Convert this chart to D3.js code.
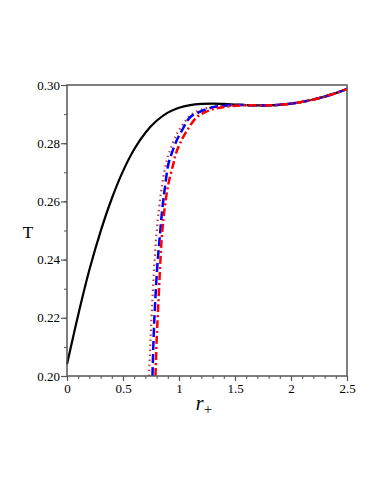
<!DOCTYPE html>
<html>
<head>
  <meta charset="utf-8">
  <title>T vs r+</title>
  <script src="https://d3js.org/d3.v7.min.js"></script>
  <style>
    body { margin: 0; background: #fff; }
    text { font-family: "Liberation Serif", "DejaVu Serif", serif; }
  </style>
</head>
<body>
  <script>
    // black solid curve: [r+, T]
    const solidCurve = [
      [0.0, 0.2040], [0.1, 0.2210], [0.2, 0.2365], [0.3, 0.2497], [0.4, 0.2610],
      [0.5, 0.2704], [0.6, 0.2779], [0.7, 0.2836], [0.8, 0.2877], [0.9, 0.2905],
      [1.0, 0.2922], [1.1, 0.2931], [1.2, 0.2935], [1.3, 0.2936], [1.4, 0.2935],
      [1.5, 0.2933], [1.6, 0.2931], [1.7, 0.2930], [1.8, 0.2930], [1.9, 0.2932],
      [2.0, 0.2936], [2.1, 0.2942], [2.2, 0.2950], [2.3, 0.2960], [2.4, 0.2972],
      [2.5, 0.2986]
    ];

    // shared tail where the three other curves sit on the black one
    const tail = [
      [1.7, 0.2930], [1.8, 0.2930], [1.9, 0.2932], [2.0, 0.2936], [2.1, 0.2942],
      [2.2, 0.2950], [2.3, 0.2960], [2.4, 0.2972], [2.5, 0.2986]
    ];

    const dottedCurve = [
      [0.732, 0.2000], [0.745, 0.2120], [0.757, 0.2220], [0.775, 0.2350], [0.795, 0.2469],
      [0.820, 0.2570], [0.850, 0.2660], [0.890, 0.2740], [0.913, 0.2768], [0.979, 0.2831],
      [1.040, 0.2868], [1.098, 0.2894], [1.188, 0.2914], [1.300, 0.2924], [1.420, 0.2929],
      [1.550, 0.2931]
    ].concat(tail);

    const dashedCurve = [
      [0.763, 0.2000], [0.775, 0.2150], [0.787, 0.2250], [0.805, 0.2370], [0.826, 0.2469],
      [0.850, 0.2570], [0.875, 0.2650], [0.905, 0.2728], [0.935, 0.2765], [0.980, 0.2810],
      [1.024, 0.2842], [1.098, 0.2889], [1.170, 0.2905], [1.247, 0.2917], [1.320, 0.2925],
      [1.396, 0.2929], [1.545, 0.2931]
    ].concat(tail);

    const dashDotCurve = [
      [0.790, 0.2000], [0.800, 0.2120], [0.812, 0.2220], [0.828, 0.2350], [0.845, 0.2469],
      [0.870, 0.2570], [0.905, 0.2660], [0.949, 0.2728], [0.970, 0.2762], [1.010, 0.2800],
      [1.069, 0.2842], [1.158, 0.2889], [1.230, 0.2906], [1.306, 0.2917], [1.380, 0.2923],
      [1.455, 0.2927], [1.560, 0.2930]
    ].concat(tail);

    const xTicks = [0, 0.5, 1, 1.5, 2, 2.5];
    const xTickLabels = ["0", "0.5", "1", "1.5", "2", "2.5"];
    const yTicks = [0.20, 0.22, 0.24, 0.26, 0.28, 0.30];
    const yTickLabels = ["0.20", "0.22", "0.24", "0.26", "0.28", "0.30"];

    const width = 382;
    const height = 494;
    const margin = { left: 67, right: 35, top: 85, bottom: 118 };

    const svg = d3.select('body').append('svg')
      .attr('width', width)
      .attr('height', height);

    const x = d3.scaleLinear().domain([0, 2.5]).range([margin.left, width - margin.right]);
    const y = d3.scaleLinear().domain([0.20, 0.30]).range([height - margin.bottom, margin.top]);

    const frameColor = '#555';

    // minor ticks
    svg.append('g')
      .attr('transform', `translate(0,${y(0.20)})`)
      .call(d3.axisBottom(x).tickValues(d3.range(0, 2.51, 0.1)).tickSize(3).tickFormat(''))
      .call(g => g.select('.domain').remove())
      .selectAll('line').attr('stroke', frameColor);
    svg.append('g')
      .attr('transform', `translate(${x(0)},0)`)
      .call(d3.axisLeft(y).tickValues(d3.range(0.20, 0.3001, 0.01)).tickSize(3).tickFormat(''))
      .call(g => g.select('.domain').remove())
      .selectAll('line').attr('stroke', frameColor);

    // major ticks + labels
    const xAxis = svg.append('g')
      .attr('transform', `translate(0,${y(0.20)})`)
      .call(d3.axisBottom(x).tickValues(xTicks).tickSize(5).tickPadding(3)
        .tickFormat((d, i) => xTickLabels[i]));
    xAxis.select('.domain').remove();
    xAxis.selectAll('line').attr('stroke', frameColor).attr('stroke-width', 1.2);
    xAxis.selectAll('text').attr('font-size', 13)
      .attr('font-family', '"Liberation Serif", serif').attr('fill', '#000');

    const yAxis = svg.append('g')
      .attr('transform', `translate(${x(0)},0)`)
      .call(d3.axisLeft(y).tickValues(yTicks).tickSize(6).tickPadding(1)
        .tickFormat((d, i) => yTickLabels[i]));
    yAxis.select('.domain').remove();
    yAxis.selectAll('line').attr('stroke', frameColor).attr('stroke-width', 1.2);
    yAxis.selectAll('text').attr('font-size', 13)
      .attr('font-family', '"Liberation Serif", serif').attr('fill', '#000');

    // curves
    const line = d3.line()
      .x(d => x(d[0]))
      .y(d => y(d[1]))
      .curve(d3.curveCatmullRom.alpha(0.5));

    svg.append('path').datum(solidCurve)
      .attr('d', line).attr('fill', 'none')
      .attr('stroke', '#000').attr('stroke-width', 2.2);

    svg.append('path').datum(dottedCurve)
      .attr('d', line).attr('fill', 'none')
      .attr('stroke', '#b8403f').attr('stroke-width', 2.2)
      .attr('stroke-dasharray', '1.5,3.5');

    svg.append('path').datum(dashedCurve)
      .attr('d', line).attr('fill', 'none')
      .attr('stroke', '#0000ff').attr('stroke-width', 2.5)
      .attr('stroke-dasharray', '9,4');

    svg.append('path').datum(dashDotCurve)
      .attr('d', line).attr('fill', 'none')
      .attr('stroke', '#ff0000').attr('stroke-width', 2.5)
      .attr('stroke-dasharray', '8,3,2,3');

    // frame
    svg.append('rect')
      .attr('x', x(0)).attr('y', y(0.30))
      .attr('width', x(2.5) - x(0)).attr('height', y(0.20) - y(0.30))
      .attr('fill', 'none').attr('stroke', frameColor).attr('stroke-width', 1.5);

    // axis titles
    svg.append('text')
      .attr('x', 28).attr('y', 238)
      .attr('text-anchor', 'middle')
      .attr('font-size', 17)
      .text('T');

    const xt = svg.append('text')
      .attr('x', 204).attr('y', 410)
      .attr('text-anchor', 'middle')
      .attr('font-size', 20);
    xt.append('tspan').attr('font-style', 'italic').text('r');
    xt.append('tspan').attr('font-size', 15).attr('dy', 4).text('+');
  </script>
</body>
</html>
